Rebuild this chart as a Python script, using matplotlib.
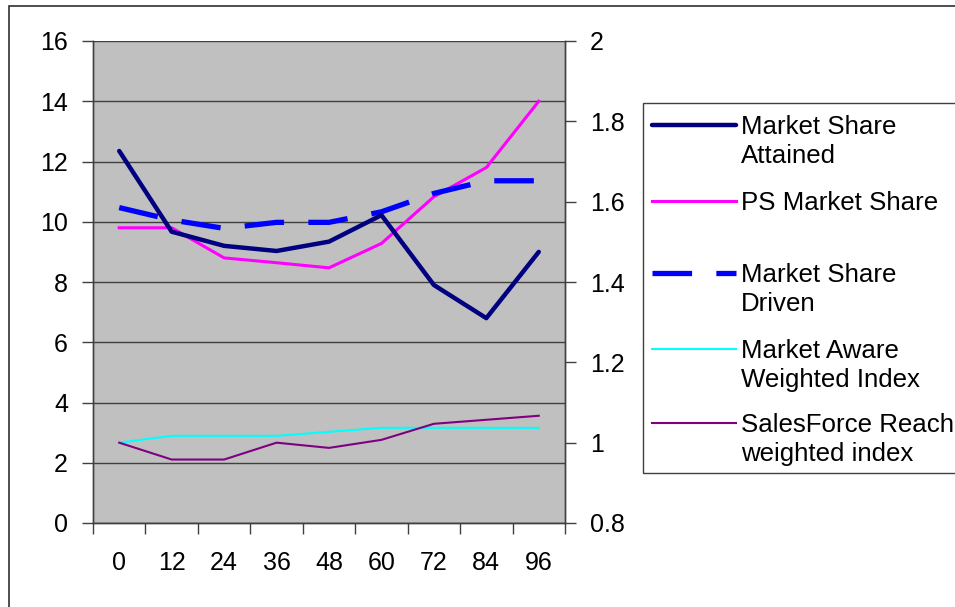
import matplotlib
matplotlib.use("Agg")
import matplotlib.pyplot as plt
from matplotlib.lines import Line2D
from matplotlib.patches import Rectangle
from matplotlib.ticker import MultipleLocator, FixedLocator

plt.rcParams['font.family'] = ['Liberation Sans', 'DejaVu Sans']

# ----------------------------
# Data
# ----------------------------
months = ["0", "12", "24", "36", "48", "60", "72", "84", "96"]
share_attained = [12.35, 9.67, 9.2, 9.03, 9.34, 10.22, 7.9, 6.8, 9.0]
ps_share = [9.8, 9.8, 8.8, 8.64, 8.47, 9.28, 10.83, 11.8, 14.0]
share_driven = [10.47, 10.06, 9.78, 9.98, 9.98, 10.33, 10.94, 11.36, 11.36]
# right axis series
aware_index = [1.0, 1.017, 1.017, 1.017, 1.027, 1.037, 1.037, 1.037, 1.037]
reach_index = [1.0, 0.958, 0.958, 1.0, 0.987, 1.007, 1.047, 1.057, 1.067]

FS = 18
W, H = 955, 607

fig = plt.figure(figsize=(W / 100, H / 100), dpi=100)

# outer chart border (cut off at right/bottom like the reference)
fig.patches.append(Rectangle((9 / W, -0.1), 1.2, (H - 6) / H + 0.1,
                             transform=fig.transFigure, fill=False,
                             edgecolor='#303030', linewidth=1.2))

ax = fig.add_axes([93 / W, (H - 523) / H, 472 / W, 482 / H])
ax.set_facecolor('#c0c0c0')
x = list(range(len(months)))

ax.plot(x, share_attained, color='#000080', lw=3.2, solid_capstyle='round', zorder=4)
ax.plot(x, ps_share, color='#ff00ff', lw=2.2, zorder=3)
ax.plot(x, share_driven, color='#0000ff', lw=3.8, dashes=(7.5, 4.6), zorder=3)

ax.set_ylim(0, 16)
ax.set_xlim(-0.5, len(months) - 0.5)
ax.yaxis.set_major_locator(MultipleLocator(2))
ax.grid(axis='y', color='#404040', lw=1.0)
ax.set_axisbelow(True)

ax.set_xticks(x)
ax.set_xticklabels(months)
ax.xaxis.set_minor_locator(FixedLocator([i - 0.5 for i in range(len(months) + 1)]))
ax.tick_params(axis='x', which='major', length=0, pad=20, labelsize=FS)
ax.tick_params(axis='x', which='minor', length=8, width=1, color='#404040')
ax.tick_params(axis='y', length=8, width=1, color='#404040', pad=10, labelsize=FS)

ax2 = ax.twinx()
ax2.plot(x, aware_index, color='#00ffff', lw=1.5, zorder=3)
ax2.plot(x, reach_index, color='#800080', lw=1.5, zorder=3)
ax2.set_ylim(0.8, 2.0)
ax2.set_yticks([0.8, 1.0, 1.2, 1.4, 1.6, 1.8, 2.0])
ax2.set_yticklabels(["0.8", "1", "1.2", "1.4", "1.6", "1.8", "2"])
ax2.tick_params(axis='y', length=8, width=1, color='#404040', pad=10, labelsize=FS)

for a in (ax, ax2):
    for s in a.spines.values():
        s.set_color('#404040')
        s.set_linewidth(1.0)
ax.spines['top'].set_visible(False)
ax2.spines['top'].set_visible(False)

# ----------------------------
# Legend (drawn by hand to keep Excel's spacing)
# ----------------------------
fig.patches.append(Rectangle((643 / W, (H - 473) / H), 0.5, 370 / H,
                             transform=fig.transFigure, fill=False,
                             edgecolor='#404040', linewidth=1.0))

entries = [
    ("Market Share\nAttained", dict(color='#000080', lw=3.2, solid_capstyle='round'), 125),
    ("PS Market Share", dict(color='#ff00ff', lw=2.2), 201),
    ("Market Share\nDriven", dict(color='#0000ff', lw=3.8, dashes=(7.5, 4.6)), 273),
    ("Market Aware\nWeighted Index", dict(color='#00ffff', lw=1.5), 349),
    ("SalesForce Reach\nweighted index", dict(color='#800080', lw=1.5), 423),
]
for label, style, ypx in entries:
    yf = (H - ypx) / H
    fig.add_artist(Line2D([652 / W, 736 / W], [yf, yf], transform=fig.transFigure, **style))
    fig.text(741 / W, (H - ypx + 10) / H, label, fontsize=18.6, va='top', ha='left',
             linespacing=1.28)

fig.savefig("out.png", dpi=100)
